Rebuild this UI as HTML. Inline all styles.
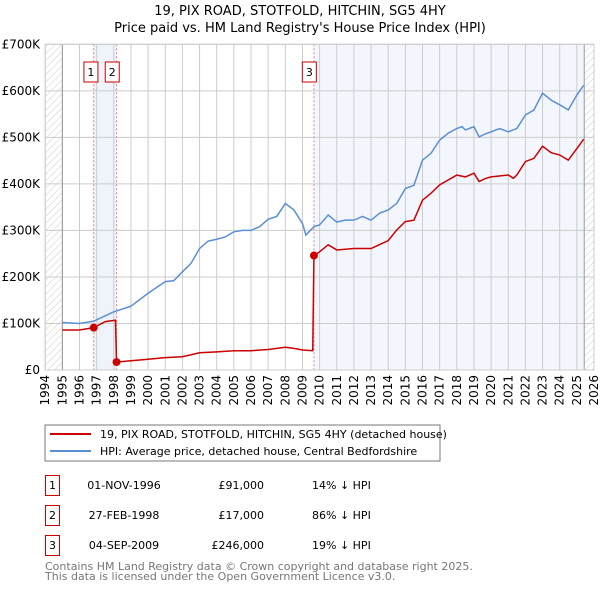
<!DOCTYPE html>
<html><head><meta charset="utf-8"><style>
body{margin:0;background:#fff;font-family:"DejaVu Sans","Liberation Sans",sans-serif;}
svg text{font-family:"DejaVu Sans","Liberation Sans",sans-serif;}
</style></head><body>
<svg id="c" width="600" height="590" xmlns="http://www.w3.org/2000/svg">
<defs><pattern id="hatch" width="5" height="5" patternUnits="userSpaceOnUse" patternTransform="rotate(45)"><line x1="0" y1="0" x2="0" y2="5" stroke="#ccc" stroke-width="1"/></pattern></defs>
<text x="300" y="15" text-anchor="middle" font-size="13">19, PIX ROAD, STOTFOLD, HITCHIN, SG5 4HY</text>
<text x="300" y="32" text-anchor="middle" font-size="13">Price paid vs. HM Land Registry's House Price Index (HPI)</text>
<g id="plot"></g>
<rect x="45" y="425" width="395" height="36" fill="#fff" stroke="#777"/>
<line x1="50" y1="434" x2="91" y2="434" stroke="#cc0000" stroke-width="2"/>
<text x="100" y="438" font-size="11">19, PIX ROAD, STOTFOLD, HITCHIN, SG5 4HY (detached house)</text>
<line x1="50" y1="451" x2="91" y2="451" stroke="#5b8fd4" stroke-width="2"/>
<text x="100" y="455" font-size="11">HPI: Average price, detached house, Central Bedfordshire</text>
<g font-size="11" id="tbl"></g>
<text x="45" y="570" font-size="11" fill="#777">Contains HM Land Registry data © Crown copyright and database right 2025.</text>
<text x="45" y="580" font-size="11" fill="#777">This data is licensed under the Open Government Licence v3.0.</text>
</svg>
<script>
const yTicks=[0,100000,200000,300000,400000,500000,600000,700000];
const yTickLabels=["£0","£100K","£200K","£300K","£400K","£500K","£600K","£700K"];
const years=[1994,1995,1996,1997,1998,1999,2000,2001,2002,2003,2004,2005,2006,2007,2008,2009,2010,2011,2012,2013,2014,2015,2016,2017,2018,2019,2020,2021,2022,2023,2024,2025,2026];
const hpiT=[1995,1996,1996.83,1998,1999,2000,2001,2001.5,2002,2002.5,2003,2003.5,2004,2004.5,2005,2005.5,2006,2006.5,2007,2007.5,2008,2008.5,2009,2009.2,2009.67,2010,2010.5,2011,2011.5,2012,2012.5,2013,2013.5,2014,2014.5,2015,2015.5,2016,2016.5,2017,2017.5,2018,2018.3,2018.5,2019,2019.3,2019.7,2020,2020.5,2021,2021.5,2022,2022.5,2023,2023.5,2024,2024.5,2025,2025.4];
const hpiV=[102,100,105,125,137,165,190,192,211,229,261,277,281,286,297,300,300,308,324,330,358,344,315,290,308,312,333,318,322,322,330,322,337,344,358,390,397,451,466,494,509,519,523,516,523,501,508,512,519,512,519,548,559,595,580,570,559,591,612];
const priceT=[1995,1996,1996.83,1997.5,1998.1,1998.16,1999,2000,2001,2002,2003,2004,2005,2006,2007,2008,2008.5,2009,2009.6,2009.67,2010,2010.5,2011,2012,2013,2014,2014.5,2015,2015.5,2016,2016.5,2017,2018,2018.5,2019,2019.3,2019.7,2020,2021,2021.3,2021.5,2022,2022.5,2023,2023.5,2024,2024.5,2025,2025.4];
const priceV=[86,86,91,104,107,17,20,23,26.5,28.6,37,39,41.5,41.5,44,49,46.5,43,41.5,246,254,269,258,261,261,278,301,319,322,365,380,398,419,415,423,405,412,415,419,412,419,448,455,481,467,462,451,476,496];
const saleT=[1996.83,1998.16,2009.67];
const saleV=[91,17,246];
const saleLabels=["1","2","3"];
const saleDates=["01-NOV-1996","27-FEB-1998","04-SEP-2009"];
const salePrices=["£91,000","£17,000","£246,000"];
const saleHpi=["14% ↓ HPI","86% ↓ HPI","19% ↓ HPI"];
const X0=45.2,X1=594,Y0=370,Y1=44.3;
const xs=t=>X0+(t-1994)/32*(X1-X0);
const ys=v=>Y0-v/700000*(Y0-Y1);
const NS="http://www.w3.org/2000/svg";
const g=document.getElementById('plot');
function mk(tag,at,p){const e=document.createElementNS(NS,tag);for(const k in at)e.setAttribute(k,at[k]);(p||g).appendChild(e);return e;}
let e;
e=mk('rect',{x:X0,y:Y1,width:X1-X0,height:Y0-Y1,fill:'#fff'});


e=mk('rect',{x:xs(1996.83),y:Y1,width:xs(1998.16)-xs(1996.83),height:Y0-Y1,fill:'#eef3fc'});


e=mk('rect',{x:xs(2009.67),y:Y1,width:xs(2025.43)-xs(2009.67),height:Y0-Y1,fill:'#f3f6fd'});


e=mk('rect',{x:X0,y:Y1,width:xs(1995)-X0,height:Y0-Y1,fill:'url(#hatch)'});


e=mk('rect',{x:xs(2025.43),y:Y1,width:X1-xs(2025.43),height:Y0-Y1,fill:'url(#hatch)'});


years.forEach((yr,i)=>{
 e=mk('line',{x1:xs(yr),x2:xs(yr),y1:Y1,y2:Y0,stroke:'#ccc','stroke-width':1});
 
 
 e=mk('text',{x:0,y:0,'font-size':12,'text-anchor':'end',transform:`translate(${xs(yr)+4},375) rotate(-90)`});
 e.textContent=yr;
 
 
});
yTicks.forEach((v,i)=>{
 e=mk('line',{x1:X0,x2:X1,y1:ys(v),y2:ys(v),stroke:'#ccc','stroke-width':1});
 
 
 e=mk('text',{x:40,y:ys(v)+4,'font-size':12,'text-anchor':'end'});
 e.textContent=yTickLabels[i];
 
 
});
e=mk('line',{x1:xs(1995),x2:xs(1995),y1:Y1,y2:Y0,stroke:'#999'});


e=mk('line',{x1:xs(2025.43),x2:xs(2025.43),y1:Y1,y2:Y0,stroke:'#999'});


const boxOff=[-9.8,-11.3,-11.6];
saleT.forEach((t,i)=>{
 e=mk('line',{x1:xs(t),x2:xs(t),y1:Y1,y2:Y0,stroke:'#f08080','stroke-dasharray':'2,2'});
 
 
 e=mk('rect',{x:xs(t)+boxOff[i],y:62,width:14,height:20,fill:'#fff',stroke:'#cc0000'});
 
 
 e=mk('text',{x:xs(t)+boxOff[i]+7,y:76,'font-size':11,'text-anchor':'middle'});
 e.textContent=saleLabels[i];
 
 
});
e=mk('polyline',{points:hpiT.map((t,i)=>xs(t)+','+ys(hpiV[i]*1000)).join(' '),fill:'none',stroke:'#5b8fd4','stroke-width':1.5});


e=mk('polyline',{points:priceT.map((t,i)=>xs(t)+','+ys(priceV[i]*1000)).join(' '),fill:'none',stroke:'#cc0000','stroke-width':1.5});


saleT.forEach((t,i)=>{
 e=mk('circle',{cx:xs(t),cy:ys(saleV[i]*1000),r:4,fill:'#cc0000'});
 
 
});
e=mk('rect',{x:X0,y:Y1,width:X1-X0,height:Y0-Y1,fill:'none',stroke:'#ccc'});
const tb=document.getElementById('tbl');
saleT.forEach((t,i)=>{
 const y=475+i*30;
 e=mk('rect',{x:45.5,y:y+0.5,width:14,height:20,fill:'#fff',stroke:'#cc0000'},tb);
 
 
 e=mk('text',{x:52.5,y:y+14,'text-anchor':'middle'},tb);e.textContent=saleLabels[i];
 
 
 e=mk('text',{x:124,y:y+14,'text-anchor':'middle'},tb);e.textContent=saleDates[i];
 
 
 e=mk('text',{x:264,y:y+14,'text-anchor':'end'},tb);e.textContent=salePrices[i];
 
 
 e=mk('text',{x:312,y:y+14},tb);e.textContent=saleHpi[i];
 
 
});
</script>
</body></html>
